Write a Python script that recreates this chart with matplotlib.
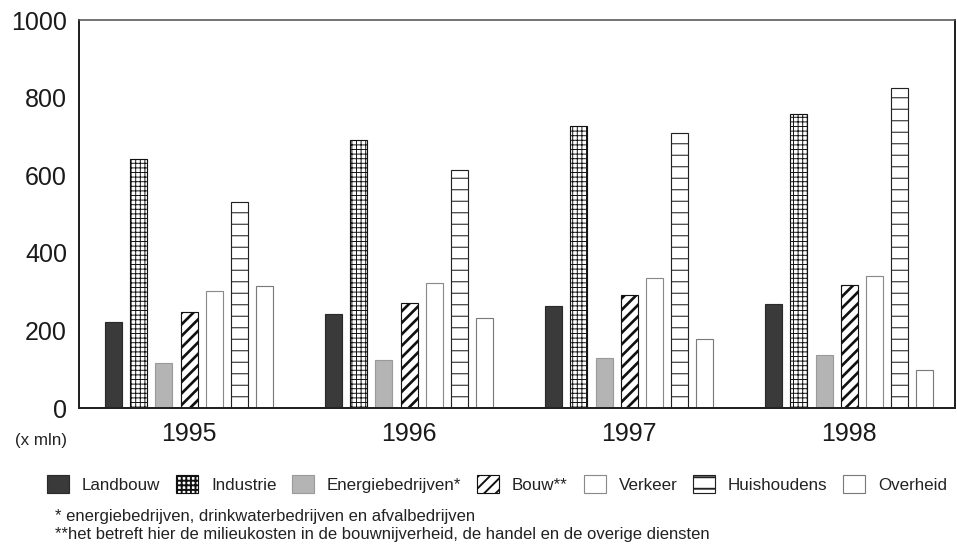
import numpy as np
import matplotlib
matplotlib.use("Agg")
import matplotlib.pyplot as plt

# data (x mln)
years = ['1995', '1996', '1997', '1998']
sectors = ['Landbouw', 'Industrie', 'Energiebedrijven*', 'Bouw**',
           'Verkeer', 'Huishoudens', 'Overheid']
landbouw = [222, 241, 264, 268]
industrie = [641, 691, 728, 759]
energie = [117, 125, 130, 137]
bouw = [248, 270, 291, 317]
verkeer = [302, 321, 334, 341]
huishoudens = [530, 613, 710, 826]
overheid = [314, 231, 178, 98]
values = [landbouw, industrie, energie, bouw, verkeer, huishoudens, overheid]
yticks = [0, 200, 400, 600, 800, 1000]

DPI = 138
def px(p):
    # pixel size -> points at this dpi
    return p * 72 / DPI

plt.rcParams['font.family'] = ['Liberation Sans', 'DejaVu Sans']

# look of each series: face, edge, hatch, hatch linewidth, edge linewidth
styles = [
    dict(fc='#3a3a3a', ec='#2a2a2a', hatch=None, hlw=0.5, lw=0.6),
    dict(fc='white', ec='#111111', hatch='+++++', hlw=0.5, lw=0.6),
    dict(fc='#b4b4b4', ec='#9a9a9a', hatch=None, hlw=0.5, lw=0.6),
    dict(fc='white', ec='#111111', hatch='////', hlw=1.4, lw=0.6),
    dict(fc='white', ec='#8a8a8a', hatch=None, hlw=0.5, lw=0.6),
    dict(fc='white', ec='#222222', hatch='--', hlw=0.55, lw=0.6),
    dict(fc='white', ec='#7a7a7a', hatch=None, hlw=0.5, lw=0.6),
]

fig = plt.figure(figsize=(957 / DPI, 544 / DPI), dpi=DPI)
ax = fig.add_axes([79 / 957, 1 - 408 / 544, (955 - 79) / 957, (408 - 20) / 544])

x = np.arange(len(years))
pitch = 0.1145
width = 0.077
handles = []
for i, (name, vals, st) in enumerate(zip(sectors, values, styles)):
    with plt.rc_context({'hatch.linewidth': st['hlw']}):
        b = ax.bar(x + (i - 3) * pitch, vals, width, facecolor=st['fc'],
                   edgecolor=st['ec'], hatch=st['hatch'], linewidth=st['lw'],
                   label=name, zorder=2)
    handles.append(b)

ax.set_xlim(-0.5, 3.48)
ax.set_ylim(0, 1000)
ax.set_yticks(yticks)
ax.set_yticklabels([str(t) for t in yticks])
ax.set_xticks(x)
ax.set_xticklabels(years)
ax.tick_params(axis='both', length=0, labelsize=px(25), colors='#1a1a1a')
ax.tick_params(axis='y', pad=px(12))
ax.tick_params(axis='x', pad=px(14))

for side in ['left', 'bottom', 'right']:
    ax.spines[side].set_linewidth(px(2))
    ax.spines[side].set_color('#222222')
ax.spines['top'].set_linewidth(px(1.6))
ax.spines['top'].set_color('#555555')

fig.text(15 / 957, 1 - 440 / 544, '(x mln)', fontsize=px(17), va='center',
         ha='left', color='#222222')

leg = fig.legend(handles=handles, labels=sectors, ncol=7, frameon=False,
                 loc='center left', bbox_to_anchor=(47 / 957, 1 - 484 / 544),
                 fontsize=px(17), handlelength=1.3, handleheight=1.3,
                 handletextpad=0.75, columnspacing=0.93, borderpad=0,
                 borderaxespad=0)
for t in leg.get_texts():
    t.set_color('#222222')

fig.text(55 / 957, 1 - 517 / 544,
         '* energiebedrijven, drinkwaterbedrijven en afvalbedrijven',
         fontsize=px(16.7), va='center', ha='left', color='#222222')
fig.text(55 / 957, 1 - 535 / 544,
         '**het betreft hier de milieukosten in de bouwnijverheid, de handel en de overige diensten',
         fontsize=px(16.7), va='center', ha='left', color='#222222')

fig.savefig('out.png', dpi=DPI)
